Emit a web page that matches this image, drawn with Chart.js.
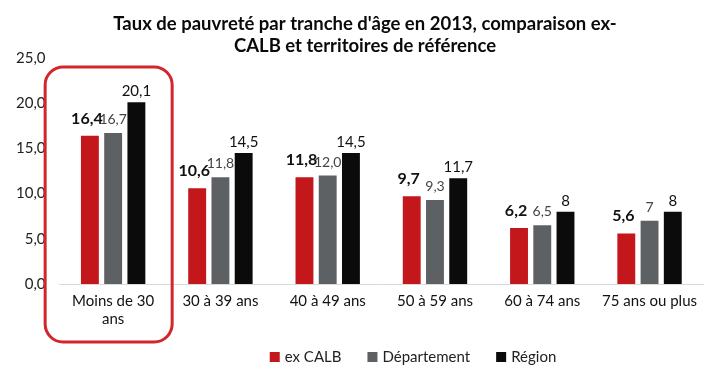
<!DOCTYPE html>
<html lang="fr">
<head>
<meta charset="utf-8">
<script src="https://cdn.jsdelivr.net/npm/chart.js@4.4.1/dist/chart.umd.min.js"></script>
<style>
  html, body { margin: 0; padding: 0; background: #fff; }
  #wrap { width: 705px; height: 367px; }
</style>
</head>
<body>
<div id="wrap"><canvas id="povertyChart"></canvas></div>
<script>
// valeurs telles qu'affichées (virgule décimale)
const ageGroups = [["Moins de 30", "ans"], "30 à 39 ans", "40 à 49 ans", "50 à 59 ans", "60 à 74 ans", "75 ans ou plus"];
const exCalb = ["16,4", "10,6", "11,8", "9,7", "6,2", "5,6"];
const departement = ["16,7", "11,8", "12,0", "9,3", "6,5", "7"];
const region = ["20,1", "14,5", "14,5", "11,7", "8", "8"];
const yTicks = [0, 5, 10, 15, 20, 25];
const titleLines = ["Taux de pauvreté par tranche d'âge en 2013, comparaison ex-", "CALB et territoires de référence"];

const toNum = s => parseFloat(s.replace(",", "."));
const FONT = "Lato, 'Open Sans', sans-serif";

function makeSet(label, texts, color, labelFont, labelColor, labelGap, labelShift) {
    return {
        label: label,
        data: texts.map(toNum),
        texts: texts,
        backgroundColor: color,
        labelFont: labelFont,
        labelColor: labelColor,
        labelGap: labelGap,
        labelShift: labelShift
    };
}

// étiquettes de valeur au-dessus des barres
const valueLabels = {
    id: "valueLabels",
    afterDatasetsDraw(chart) {
        const ctx = chart.ctx;
        chart.data.datasets.forEach((ds, i) => {
            const meta = chart.getDatasetMeta(i);
            ctx.save();
            ctx.font = ds.labelFont;
            ctx.fillStyle = ds.labelColor;
            ctx.textAlign = "center";
            ctx.textBaseline = "alphabetic";
            meta.data.forEach((bar, j) => {
                ctx.fillText(ds.texts[j], bar.x + ds.labelShift, bar.y - ds.labelGap);
            });
            ctx.restore();
        });
    }
};

// titre, légende et cadre rouge autour du premier groupe
const decorations = {
    id: "decorations",
    afterDraw(chart) {
        const ctx = chart.ctx;
        const xs = chart.scales.x, ys = chart.scales.y;

        ctx.save();
        ctx.fillStyle = "#0a0a0a";
        ctx.font = "bold 18.5px " + FONT;
        ctx.textAlign = "center";
        ctx.textBaseline = "middle";
        titleLines.forEach((t, k) => ctx.fillText(t, 365, 24 + k * 22));
        ctx.restore();

        const x0 = xs.getPixelForValue(0);
        const top = ys.getPixelForValue(24);
        ctx.save();
        ctx.strokeStyle = "#d2262b";
        ctx.lineWidth = 3;
        ctx.beginPath();
        ctx.roundRect(x0 - 68, top, 127, chart.height - 25 - top, 18);
        ctx.stroke();
        ctx.restore();

        ctx.save();
        ctx.font = "15px " + FONT;
        ctx.textBaseline = "middle";
        const box = 10, gap = 5, spacing = 26;
        const items = chart.data.datasets.map(ds => ({ text: ds.label, color: ds.backgroundColor, w: ctx.measureText(ds.label).width }));
        const total = items.reduce((s, it) => s + box + gap + it.w, 0) + spacing * (items.length - 1);
        let x = 413 - total / 2;
        const y = 357;
        items.forEach(it => {
            ctx.fillStyle = it.color;
            ctx.fillRect(x, y - box / 2, box, box);
            ctx.fillStyle = "#222";
            ctx.fillText(it.text, x + box + gap, y);
            x += box + gap + it.w + spacing;
        });
        ctx.restore();
    }
};

new Chart(document.getElementById("povertyChart"), {
    type: "bar",
    data: {
        labels: ageGroups,
        datasets: [
            makeSet("ex CALB", exCalb, "#c3171c", "bold 16px " + FONT, "#111", 12, -3),
            makeSet("Département", departement, "#5e6164", "14px " + FONT, "#444", 9, 0),
            makeSet("Région", region, "#0b0b0b", "15px " + FONT, "#111", 6, 0)
        ]
    },
    options: {
        responsive: true,
        maintainAspectRatio: false,
        animation: false,
        layout: { padding: { top: 58, bottom: 31, left: 2, right: 0 } },
        datasets: { bar: { categoryPercentage: 0.65, barPercentage: 0.77 } },
        plugins: {
            legend: { display: false },
            title: { display: false },
            tooltip: { enabled: false }
        },
        scales: {
            x: {
                grid: { display: false, drawTicks: false },
                border: { color: "#d9d9d9" },
                ticks: {
                    color: "#111",
                    font: { family: FONT, size: 15 },
                    maxRotation: 0,
                    autoSkip: false,
                    padding: 8
                }
            },
            y: {
                min: 0,
                max: 25,
                afterBuildTicks: axis => { axis.ticks = yTicks.map(v => ({ value: v })); },
                grid: { display: false, drawTicks: false },
                border: { display: false },
                ticks: {
                    color: "#222",
                    font: { family: FONT, size: 15 },
                    padding: 14,
                    callback: v => v.toFixed(1).replace(".", ",")
                }
            }
        }
    },
    plugins: [valueLabels, decorations]
});
</script>
</body>
</html>
